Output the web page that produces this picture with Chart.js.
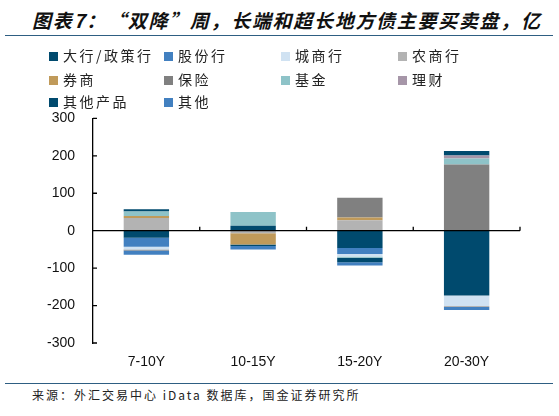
<!DOCTYPE html>
<html>
<head>
<meta charset="utf-8">
<script src="https://cdn.jsdelivr.net/npm/chart.js@4.4.1/dist/chart.umd.min.js"></script>
<style>
  body { margin: 0; width: 559px; height: 416px; background: #fff; position: relative; overflow: hidden; font-family: "Noto Sans CJK SC", sans-serif; }
  #title { position: absolute; left: 32px; top: 6px; font-size: 19px; font-weight: bold; font-style: italic; color: #111; letter-spacing: 1.7px; white-space: nowrap; }
  .rule { position: absolute; left: 5px; width: 548px; height: 0; border-top: 1.5px solid #2E5E82; }
  #legend { position: absolute; left: 0; top: 45px; width: 559px; height: 66px; z-index: 2; }
  .item { position: absolute; font-size: 14px; letter-spacing: 2.5px; color: #222; white-space: nowrap; line-height: 20px; }
  .item i { display: inline-block; width: 9px; height: 9px; margin-right: 5px; vertical-align: 0px; }
  #wrap { position: absolute; left: 0; top: 92px; width: 559px; height: 284px; }
  #source { position: absolute; left: 32px; top: 386px; font-size: 12px; color: #222; letter-spacing: 2px; white-space: nowrap; }
</style>
</head>
<body>
<div id="title">图表7：“双降”周，长端和超长地方债主要买卖盘，亿</div>
<div class="rule" style="top:35px"></div>
<div id="wrap"><canvas id="c"></canvas></div>
<div id="legend"></div>
<div class="rule" style="top:383px"></div>
<div id="source">来源：外汇交易中心 iData 数据库，国金证券研究所</div>
<script>
// categories and tick labels
const categories = ['7-10Y', '10-15Y', '15-20Y', '20-30Y'];
const yTicks = [300, 200, 100, 0, -100, -200, -300];

// series values (亿), one value per category
const bigBanks   = [-19, 13, -46, -173];
const jointBanks = [-24, 0, -16, 0];
const cityBanks  = [-7, 0, -7, -28];
const ruralBanks = [34, -7, 28, -3];
const brokers    = [5, -30, 7, 0];
const insurance  = [-3, 0, 53, 177];
const funds      = [12, 37, -3, 16];
const wealth     = [0, 0, 0, 8];
const otherProd  = [6, -4, -12, 12];
const others     = [-11, -9, -9, -8];

const seriesNames  = ['大行/政策行', '股份行', '城商行', '农商行', '券商', '保险', '基金', '理财', '其他产品', '其他'];
const seriesValues = [bigBanks, jointBanks, cityBanks, ruralBanks, brokers, insurance, funds, wealth, otherProd, others];
const seriesColors = ['#004A6E', '#4280C0', '#D0E2F2', '#B3B3B3', '#C09A5A', '#808080', '#8EC3C8', '#A696A8', '#004A6E', '#4280C0'];

// html legend in a 4-column grid
const colX = [49, 164, 281, 398];
const rowY = [0, 24, 46];
const legend = document.getElementById('legend');
seriesNames.forEach((name, i) => {
    const el = document.createElement('div');
    el.className = 'item';
    el.style.left = colX[i % 4] + 'px';
    el.style.top = rowY[Math.floor(i / 4)] + 'px';
    el.innerHTML = '<i style="background:' + seriesColors[i] + '"></i>' + name;
    legend.appendChild(el);
});

// zero line and small inside tick marks, drawn over the bars
const axisMarks = {
    id: 'axisMarks',
    afterDatasetsDraw(chart) {
        const { ctx, chartArea, scales: { x, y } } = chart;
        const zeroY = y.getPixelForValue(0);
        ctx.save();
        ctx.strokeStyle = '#000';
        ctx.lineWidth = 1.3;
        ctx.beginPath();
        ctx.moveTo(chartArea.left, zeroY);
        ctx.lineTo(chartArea.right, zeroY);
        yTicks.forEach(v => {
            const py = y.getPixelForValue(v);
            ctx.moveTo(chartArea.left, py);
            ctx.lineTo(chartArea.left + 4, py);
        });
        for (let i = 0; i < categories.length; i++) {
            const px = i < categories.length - 1
                ? (x.getPixelForValue(i) + x.getPixelForValue(i + 1)) / 2
                : chartArea.right;
            ctx.moveTo(px, zeroY);
            ctx.lineTo(px, zeroY - 4);
        }
        ctx.stroke();
        ctx.restore();
    }
};

new Chart(document.getElementById('c'), {
    type: 'bar',
    data: {
        labels: categories,
        datasets: seriesNames.map((name, i) => ({
            label: name,
            data: seriesValues[i],
            backgroundColor: seriesColors[i],
            borderWidth: 0,
            barPercentage: 0.85,
            categoryPercentage: 0.5
        }))
    },
    options: {
        responsive: true,
        maintainAspectRatio: false,
        animation: false,
        layout: { padding: { top: 0, left: 0, right: 39, bottom: 0 } },
        plugins: { legend: { display: false }, tooltip: { enabled: false } },
        scales: {
            x: {
                stacked: true,
                grid: { display: false },
                border: { display: false },
                ticks: { color: '#111', padding: 3, font: { family: 'Liberation Sans', size: 14 } },
                afterFit: s => { s.height = 33; }
            },
            y: {
                stacked: true,
                min: -300,
                max: 300,
                grid: { display: false, drawTicks: false },
                border: { display: true, color: '#000', width: 1.3 },
                afterBuildTicks: s => { s.ticks = yTicks.map(v => ({ value: v })); },
                ticks: { color: '#111', padding: 18, font: { family: 'Liberation Sans', size: 14 } },
                afterFit: s => { s.width = 93; }
            }
        }
    },
    plugins: [axisMarks]
});
</script>
</body>
</html>
